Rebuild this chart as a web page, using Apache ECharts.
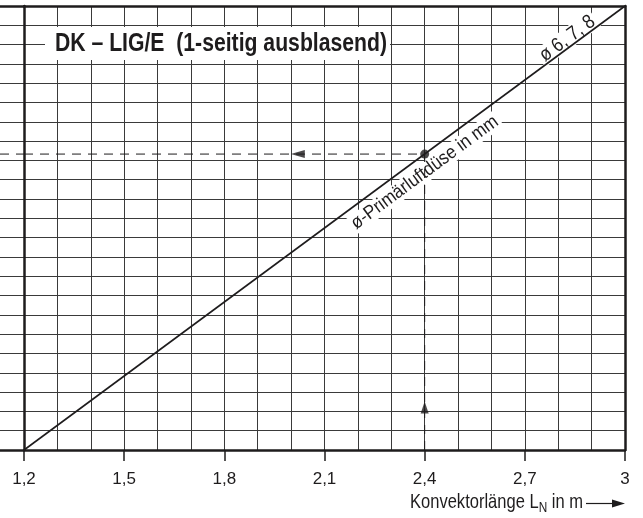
<!DOCTYPE html>
<html>
<head>
<meta charset="utf-8">
<script src="https://cdn.jsdelivr.net/npm/echarts@6/dist/echarts.min.js"></script>
<style>
    html, body { margin: 0; padding: 0; background: #fff; }
    #chart { width: 643px; height: 518px; }
</style>
</head>
<body>
<div id="chart"></div>
<script>
    // Konvektorlänge L_N in m (x-Achse)
    var xTicks = [1.2, 1.5, 1.8, 2.1, 2.4, 2.7, 3];
    var xTickLabels = ['1,2', '1,5', '1,8', '2,1', '2,4', '2,7', '3'];
    // y-Achse: nur Rasterzeilen sichtbar, keine Beschriftung
    var yMin = 0;
    var yMax = 23;
    // Kennlinie ø 6, 7, 8
    var lineX = [1.2, 3];
    var lineY = [0, 23];
    // Ablesebeispiel
    var readX = 2.4;
    var readY = 15.33;
    var arrowLeftX = 2.02;
    var arrowUpY = 2.2;
    // Texte
    var titleText = 'DK – LIG/E  (1-seitig ausblasend)';
    var lineLabel = 'ø 6, 7, 8';
    var lineName = 'ø-Primärluftdüse in mm';
    var axisNameParts = ['Konvektorlänge L', 'N', ' in m'];

    var ink = '#1e1c1d';
    var gridColor = '#3a3a3a';

    // schmale Schrift vorhanden?
    var cv = document.createElement('canvas').getContext('2d');
    function textWidth(font, s) { cv.font = font; return cv.measureText(s).width; }
    var hasNarrow = textWidth('20px "Liberation Sans Narrow", monospace', 'Konvektorlänge') !==
        textWidth('20px monospace', 'Konvektorlänge');
    var labelFont = hasNarrow ? '"Liberation Sans Narrow"' : '"Liberation Sans"';
    var labelSize = hasNarrow ? 20 : 17;

    function fmtX(v) {
        for (var i = 0; i < xTicks.length; i++) {
            if (Math.abs(xTicks[i] - v) < 1e-6) return xTickLabels[i];
        }
        return '';
    }

    var thick = { show: true, onZero: false, lineStyle: { color: ink, width: 2.5 } };
    var off = { show: false };

    var option = {
        animation: false,
        grid: [
            { left: 24, right: 18, top: 6, bottom: 68 },
            { left: 0, width: 24, top: 6, bottom: 68 }
        ],
        xAxis: [{
            gridIndex: 0, type: 'value', min: xTicks[0], max: xTicks[xTicks.length - 1], interval: 0.3,
            axisLine: thick,
            axisTick: { show: true, length: 11, lineStyle: { color: ink, width: 1.5 } },
            axisLabel: {
                margin: 21, color: ink, fontSize: labelSize, fontFamily: labelFont,
                showMinLabel: true, showMaxLabel: true, formatter: fmtX
            },
            splitLine: { show: true, lineStyle: { color: gridColor, width: 1 } },
            minorTick: { show: false, splitNumber: 3 },
            minorSplitLine: { show: true, lineStyle: { color: gridColor, width: 1 } }
        }, {
            gridIndex: 0, type: 'value', position: 'top', min: xTicks[0], max: xTicks[xTicks.length - 1],
            axisLine: thick, axisTick: off, axisLabel: off, splitLine: off
        }, {
            gridIndex: 1, type: 'value', min: 0, max: 1,
            axisLine: thick, axisTick: off, axisLabel: off, splitLine: off
        }, {
            gridIndex: 1, type: 'value', position: 'top', min: 0, max: 1,
            axisLine: thick, axisTick: off, axisLabel: off, splitLine: off
        }],
        yAxis: [{
            gridIndex: 0, type: 'value', min: yMin, max: yMax, interval: 1,
            axisLine: thick, axisTick: off, axisLabel: off,
            splitLine: { show: true, lineStyle: { color: gridColor, width: 1 } }
        }, {
            gridIndex: 0, type: 'value', position: 'right', min: yMin, max: yMax,
            axisLine: thick, axisTick: off, axisLabel: off, splitLine: off
        }, {
            gridIndex: 1, type: 'value', min: yMin, max: yMax, interval: 1,
            axisLine: off, axisTick: off, axisLabel: off,
            splitLine: { show: true, lineStyle: { color: gridColor, width: 1 } }
        }],
        series: [{
            // Kennlinie
            type: 'line', xAxisIndex: 0, yAxisIndex: 0, z: 4,
            data: lineX.map(function (x, i) { return [x, lineY[i]]; }),
            symbol: 'none', lineStyle: { color: ink, width: 1.6 }
        }, {
            // gestrichelt waagrecht
            type: 'line', xAxisIndex: 0, yAxisIndex: 0, z: 3,
            data: [[lineX[0], readY], [readX, readY]],
            symbol: 'none', lineStyle: { color: ink, width: 1, type: [9, 7] }
        }, {
            type: 'line', xAxisIndex: 2, yAxisIndex: 2, z: 3,
            data: [[0, readY], [1, readY]],
            symbol: 'none', lineStyle: { color: ink, width: 1, type: [9, 7] }
        }, {
            // gestrichelt senkrecht
            type: 'line', xAxisIndex: 0, yAxisIndex: 0, z: 3,
            data: [[readX, yMin], [readX, readY]],
            symbol: 'none', lineStyle: { color: ink, width: 1, type: [9, 7] }
        }, {
            type: 'scatter', xAxisIndex: 0, yAxisIndex: 0, z: 5,
            data: [[readX, readY]], symbol: 'circle', symbolSize: 9,
            itemStyle: { color: ink }
        }, {
            type: 'scatter', xAxisIndex: 0, yAxisIndex: 0, z: 5,
            data: [[arrowLeftX, readY]], symbol: 'triangle', symbolSize: [8, 14], symbolRotate: 90,
            itemStyle: { color: ink }
        }, {
            type: 'scatter', xAxisIndex: 0, yAxisIndex: 0, z: 5,
            data: [[readX, arrowUpY]], symbol: 'triangle', symbolSize: [8, 12],
            itemStyle: { color: ink }
        }]
    };

    var chart = echarts.init(document.getElementById('chart'));
    chart.setOption(option);

    // Beschriftungen entlang der Kennlinie
    var p0 = chart.convertToPixel({ gridIndex: 0 }, [lineX[0], lineY[0]]);
    var p1 = chart.convertToPixel({ gridIndex: 0 }, [lineX[1], lineY[1]]);
    var ang = Math.atan2(p0[1] - p1[1], p1[0] - p0[0]);
    function along(t, d) {
        return [p0[0] + t * (p1[0] - p0[0]) - d * Math.sin(ang),
                p0[1] + t * (p1[1] - p0[1]) - d * Math.cos(ang)];
    }
    function fitText(s, font, w) { return w / textWidth(font, s); }

    var baseFont = '"Liberation Sans", Arial, sans-serif';
    var fLbl = '20px ' + baseFont;
    var fName = '19px ' + baseFont;
    var fTitle = 'bold 25px ' + baseFont;
    var fAx = '21px ' + baseFont;
    var fSub = '15px ' + baseFont;

    var qa = along(0.912, 8);
    var qb = along(0.652, -15);

    var axScale = 173 / (textWidth(fAx, axisNameParts[0]) + textWidth(fSub, axisNameParts[1]) + textWidth(fAx, axisNameParts[2]));
    var w1 = textWidth(fAx, axisNameParts[0]) * axScale;
    var w2 = textWidth(fSub, axisNameParts[1]) * axScale;

    chart.setOption({
        graphic: [{
            type: 'rect', z: 1, shape: { x: 45, y: 27, width: 345, height: 33 },
            style: { fill: '#fff' }
        }, {
            type: 'text', z: 2, x: 55, y: 44, scaleX: fitText(titleText, fTitle, 332),
            style: { text: titleText, font: fTitle, fill: ink, align: 'left', verticalAlign: 'middle' }
        }, {
            type: 'text', z: 2, x: qa[0], y: qa[1], rotation: ang,
            scaleX: fitText(lineLabel, fLbl, 64),
            style: { text: lineLabel, font: fLbl, fill: ink, align: 'center', verticalAlign: 'middle',
                backgroundColor: '#fff', padding: [0, 3] }
        }, {
            type: 'text', z: 2, x: qb[0], y: qb[1], rotation: ang,
            scaleX: fitText(lineName, fName, 178),
            style: { text: lineName, font: fName, fill: ink, align: 'center', verticalAlign: 'middle',
                backgroundColor: '#fff', padding: [0, 3] }
        }, {
            type: 'text', z: 2, x: 410, y: 502.5, scaleX: axScale,
            style: { text: axisNameParts[0], font: fAx, fill: ink, align: 'left', verticalAlign: 'middle' }
        }, {
            type: 'text', z: 2, x: 410 + w1, y: 508, scaleX: axScale,
            style: { text: axisNameParts[1], font: fSub, fill: ink, align: 'left', verticalAlign: 'middle' }
        }, {
            type: 'text', z: 2, x: 410 + w1 + w2, y: 502.5, scaleX: axScale,
            style: { text: axisNameParts[2], font: fAx, fill: ink, align: 'left', verticalAlign: 'middle' }
        }, {
            type: 'line', z: 2, shape: { x1: 586, y1: 503.5, x2: 614, y2: 503.5 },
            style: { stroke: ink, lineWidth: 1.2 }
        }, {
            type: 'polygon', z: 2, shape: { points: [[612, 499.5], [625, 503.5], [612, 507.5]] },
            style: { fill: ink }
        }]
    });
</script>
</body>
</html>
